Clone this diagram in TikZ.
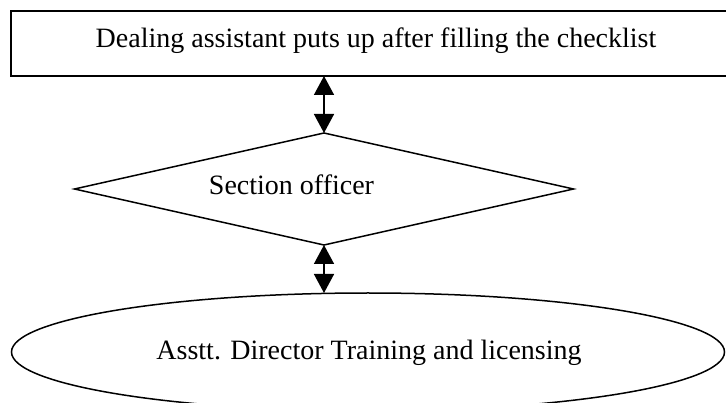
\documentclass[tikz,border=0pt]{standalone}
\usepackage{fontspec}
\setmainfont{Liberation Serif}[Ligatures=NoCommon]
\usetikzlibrary{shapes.geometric,arrows.meta}
\begin{document}
\begin{tikzpicture}[x=1pt,y=-1pt,
  shapeline/.style={draw=black,line width=1.5pt,inner sep=0pt,outer sep=0pt},
  txt/.style={inner sep=0pt,outer sep=0pt,anchor=base,font=\fontsize{28}{32}\selectfont},
  dbl/.style={line width=1.5pt,{Triangle[length=19pt,width=20pt]}-{Triangle[length=19pt,width=20pt]}}]
\useasboundingbox (0,0) rectangle (726,403);
\clip (0,0) rectangle (726,403);
\node[shapeline,rectangle,minimum width=722pt,minimum height=65pt] (box) at (372,43.5) {};
\node[shapeline,diamond,minimum width=499pt,minimum height=112pt] (dia) at (324,189) {};
\node[shapeline,ellipse,minimum width=713pt,minimum height=118pt] (ell) at (368,352) {};
\node[txt] (t1) at (376,48) {Dealing assistant puts up after filling the checklist};
\node[txt] (t2) at (291.5,195) {Section officer};
\node[txt] (t3) at (369,360) {Asstt. Director Training and licensing};
\draw[dbl] (box.south -| dia.north) -- (dia.north);
\draw[dbl] (dia.south) -- (dia.south |- ell.north);
\end{tikzpicture}
\end{document}
